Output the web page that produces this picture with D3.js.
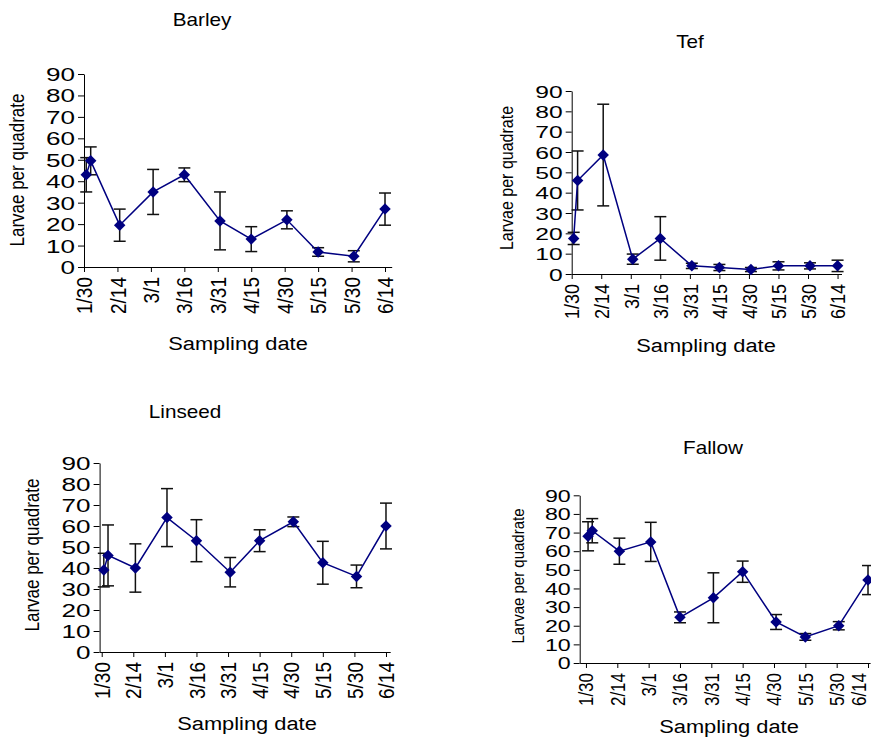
<!DOCTYPE html>
<html>
<head>
<meta charset="utf-8">
<script src="https://cdn.jsdelivr.net/npm/d3@7"></script>
<style>
  body { margin: 0; background: #fff; }
  svg { display: block; }
  text { font-family: "Liberation Sans", Arial, sans-serif; fill: #000; }
</style>
</head>
<body>
<svg id="chart" width="871" height="737"></svg>
<script>
// Sampling dates shared by all four crops
const sampleDates = ["2005-01-31", "2005-02-02", "2005-02-15", "2005-03-02", "2005-03-16",
  "2005-04-01", "2005-04-15", "2005-05-01", "2005-05-15", "2005-05-31", "2005-06-14"];

// Axis ticks every 15 days
const tickDates = ["2005-01-30", "2005-02-14", "2005-03-01", "2005-03-16", "2005-03-31",
  "2005-04-15", "2005-04-30", "2005-05-15", "2005-05-30", "2005-06-14"];
const tickLabels = ["1/30", "2/14", "3/1", "3/16", "3/31", "4/15", "4/30", "5/15", "5/30", "6/14"];
const yTicks = [0, 10, 20, 30, 40, 50, 60, 70, 80, 90];

// Mean larvae per quadrate and error (±) per sampling date
const barleyMean = [43, 49.5, 19.5, 35, 43, 21.5, 13, 22, 7, 5, 27];
const barleyErr = [8, 6.5, 7.5, 10.5, 3.2, 13.5, 5.8, 4.2, 2, 2.6, 7.5];
const tefMean = [17.5, 46, 58.5, 7.3, 17.5, 4, 3.2, 2.2, 4, 4, 4];
const tefErr = [3, 14.5, 25, 2.5, 10.7, 1.3, 1.5, 1, 2, 1.5, 2.8];
const linseedMean = [39, 46, 40, 64, 53, 38, 53, 62, 42.5, 36, 60];
const linseedErr = [8, 14.5, 11.5, 13.8, 10, 7, 5.2, 2.3, 10.2, 5.4, 10.9];
const fallowMean = [68, 71, 60, 65, 24.5, 35, 49, 22, 14, 20, 44.5];
const fallowErr = [7.8, 6.5, 7, 10.5, 2.9, 13.4, 5.7, 4, 1.8, 2.2, 7.8];

const parse = d3.timeParse("%Y-%m-%d");
const sx = 1.15;            // horizontal stretch for titles and x tick labels
const ySx = 1.45;           // horizontal stretch for y tick labels
const lineColor = "#000080";
const W = 871;

const panels = [
  { title: "Barley", mean: barleyMean, err: barleyErr,
    start: "2005-01-30", end: "2005-06-17", x0: 84, x1: 391.7, y0: 267, y1: 74,
    yTick: 18, xTick: 19, titleX: 202, titleY: 26,
    xlabX: 238, xlabY: 350, ylabX: 17.5, ylabY: 170, ylabSize: 17 },
  { title: "Tef", mean: tefMean, err: tefErr,
    start: "2005-01-30", end: "2005-06-16", x0: 571.7, x1: 841.5, y0: 274, y1: 91,
    yTick: 17, xTick: 18, titleX: 690, titleY: 48,
    xlabX: 706, xlabY: 352, ylabX: 507, ylabY: 178, ylabSize: 16 },
  { title: "Linseed", mean: linseedMean, err: linseedErr,
    start: "2005-01-29", end: "2005-06-16", x0: 99.6, x1: 390.2, y0: 652, y1: 463,
    yTick: 18, xTick: 19, titleX: 185, titleY: 418,
    xlabX: 247, xlabY: 730, ylabX: 32, ylabY: 555, ylabSize: 17 },
  { title: "Fallow", mean: fallowMean, err: fallowErr,
    start: "2005-01-27", end: "2005-06-15", x0: 579.7, x1: 870.1, y0: 663, y1: 495.3,
    yTick: 16, xTick: 17, titleX: 713, titleY: 454,
    xlabX: 729, xlabY: 733, ylabX: 517.5, ylabY: 576, ylabSize: 15 }
];

const svg = d3.select("#chart");

function stretchedText(g, x, y, str, size, rotate) {
  return g.append("text")
    .attr("transform", `translate(${x},${y}) scale(${sx},1)` + (rotate ? " rotate(-90)" : ""))
    .attr("text-anchor", "middle")
    .attr("dy", rotate ? "0.35em" : null)
    .attr("font-size", size)
    .text(str);
}

panels.forEach(p => {
  const x = d3.scaleTime()
    .domain([parse(p.start), parse(p.end)])
    .range([p.x0, p.x1]);
  const y = d3.scaleLinear().domain([0, 90]).range([p.y0, p.y1]);

  const g = svg.append("g");

  // x axis with rotated date labels
  const xAxis = d3.axisBottom(x)
    .tickValues(tickDates.map(parse))
    .tickFormat((d, i) => tickLabels[i])
    .tickSize(5)
    .tickSizeOuter(0);
  const gx = g.append("g").attr("transform", `translate(0,${p.y0})`).call(xAxis);
  gx.selectAll("text")
    .attr("x", 0).attr("y", 0).attr("dy", "0.35em")
    .attr("text-anchor", "end")
    .attr("font-size", p.xTick)
    .attr("transform", `translate(0,10) scale(${sx},1) rotate(-90)`);
  // keep labels at the right page edge inside the page
  gx.selectAll("text").each(function () {
    const r = this.getBoundingClientRect();
    if (r.right > W - 1) {
      const shift = r.right - (W - 1);
      d3.select(this).attr("transform", `translate(${-shift},10) scale(${sx},1) rotate(-90)`);
    }
  });

  // y axis
  const yAxis = d3.axisLeft(y)
    .tickValues(yTicks)
    .tickSize(6)
    .tickSizeOuter(0);
  const gy = g.append("g").attr("transform", `translate(${p.x0},0)`).call(yAxis);
  gy.selectAll("text")
    .attr("x", -9 / ySx)
    .attr("dy", "0.36em")
    .attr("font-size", p.yTick)
    .attr("transform", `scale(${ySx},1)`);

  [gx, gy].forEach(a => {
    a.attr("font-family", null);
    a.select(".domain").attr("stroke", "#000").attr("stroke-width", 1);
    a.selectAll(".tick line").attr("stroke", "#000");
  });

  // titles
  stretchedText(g, p.titleX, p.titleY, p.title, 18, false);
  stretchedText(g, p.xlabX, p.xlabY, "Sampling date", 19, false);
  stretchedText(g, p.ylabX, p.ylabY, "Larvae per quadrate", p.ylabSize, true);

  const pts = sampleDates.map((d, i) => ({ date: parse(d), m: p.mean[i], e: p.err[i] }));

  // error bars
  const eb = g.append("g").attr("stroke", "#111").attr("stroke-width", 1.5);
  pts.forEach(d => {
    const cx = x(d.date), top = y(d.m + d.e), bot = y(Math.max(0, d.m - d.e));
    eb.append("line").attr("x1", cx).attr("x2", cx).attr("y1", top).attr("y2", bot);
    eb.append("line").attr("x1", cx - 6).attr("x2", cx + 6).attr("y1", top).attr("y2", top);
    eb.append("line").attr("x1", cx - 6).attr("x2", cx + 6).attr("y1", bot).attr("y2", bot);
  });

  // mean line
  g.append("path")
    .datum(pts)
    .attr("fill", "none")
    .attr("stroke", lineColor)
    .attr("stroke-width", 1.5)
    .attr("d", d3.line().x(d => x(d.date)).y(d => y(d.m)));

  // diamond markers
  g.selectAll(".marker")
    .data(pts)
    .join("path")
    .attr("class", "marker")
    .attr("fill", lineColor)
    .attr("d", d3.symbol(d3.symbolSquare, 66))
    .attr("transform", d => `translate(${x(d.date)},${y(d.m)}) rotate(45)`);
});
</script>
</body>
</html>
